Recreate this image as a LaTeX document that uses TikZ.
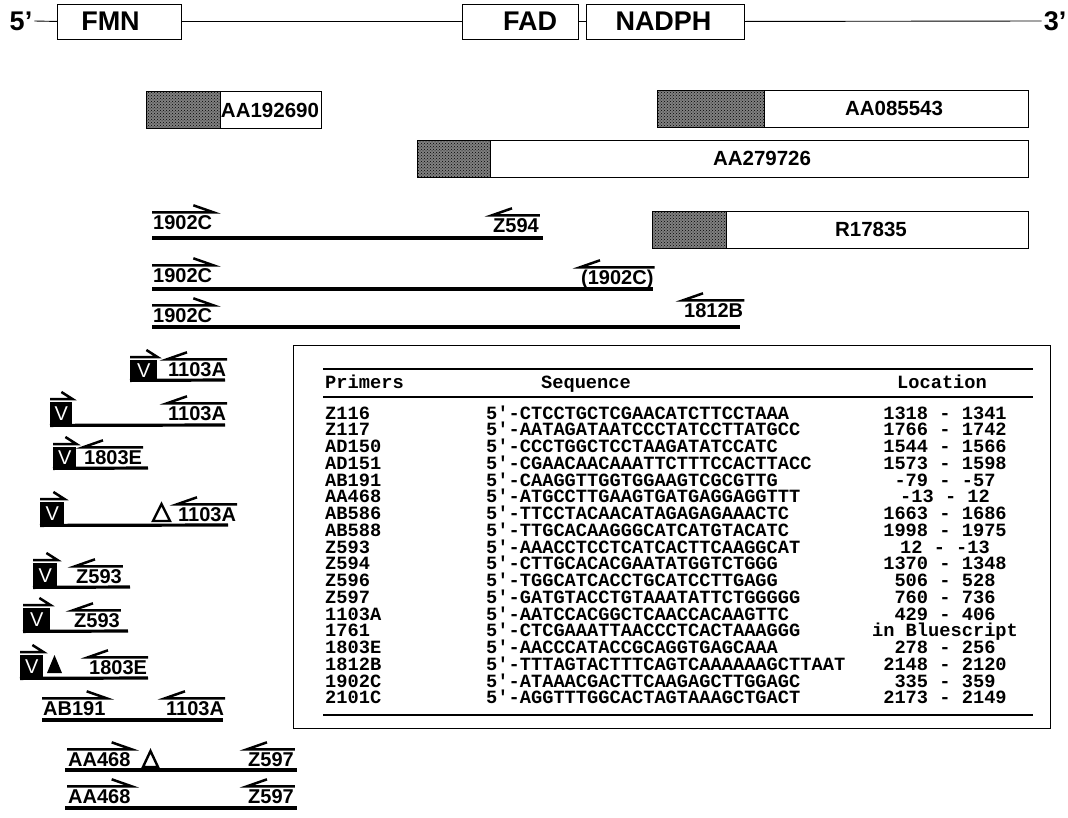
\documentclass[tikz,border=0pt]{standalone}
\usepackage{fontspec}
\setmainfont{Liberation Sans}
\setmonofont{Liberation Mono}
\usetikzlibrary{patterns}
\newcommand\hR[1]{\draw[harp] (#1.north west) -- (#1.north east) -- ++(-20,-7);}
\newcommand\hL[1]{\draw[harp] (#1.north east) -- (#1.north west) -- ++(20,-7);}
\newcommand\hV[1]{\draw[harp] ([yshift=3pt]#1.north west) -- ([yshift=3pt]#1.north east) -- ++(-11,-7);}
\begin{document}
\begin{tikzpicture}[x=1pt,y=-1pt,
  dom/.style={draw,line width=0.9pt,inner sep=0,anchor=north west,fill=white},
  domtxt/.style={font=\bfseries\fontsize{27}{27}\selectfont,inner sep=0},
  est/.style={draw,line width=0.9pt,inner sep=0,anchor=north west,fill=white},
  shd/.style={draw,line width=0.9pt,inner sep=0,anchor=north west,fill=black!50,postaction={pattern=crosshatch dots,pattern color=black}},
  esttxt/.style={font=\bfseries\fontsize{20.5}{21}\selectfont,inner sep=0},
  dna/.style={line width=3.2pt},
  harp/.style={line width=2.5pt},
  lbl/.style={font=\bfseries\fontsize{20}{20}\selectfont,inner xsep=1pt,inner ysep=2pt,text height=14.5pt,text depth=0pt,anchor=base west},
  vbox/.style={fill=black,text=white,inner sep=0,anchor=north west,font=\fontsize{20}{20}\selectfont},
  tri/.style={line width=2.4pt,line join=miter},
  tt/.style={font=\ttfamily\bfseries\fontsize{18.7}{18}\selectfont,inner sep=0,anchor=base west}]
\useasboundingbox (0,0) rectangle (1068,817);

% ---- top domain bar
\node[domtxt,inner xsep=2pt] (p5) at (21,21) {5’};
\node[domtxt,inner xsep=2pt] (p3) at (1055,21) {3’};
\node[dom,minimum width=124,minimum height=35] (fmn) at (57,3.5) {};
\node[dom,minimum width=116,minimum height=35] (fad) at (462,3.5) {};
\node[dom,minimum width=158,minimum height=35] (nadph) at (586,3.5) {};
\draw[line width=0.9pt] (p5.east) -- (fmn.west) (fmn.east) -- (fad.west)
  (fad.east) -- (nadph.west) (nadph.east) -- (p3.west);
\node[domtxt] (tfmn) at (110.5,21) {FMN};
\node[domtxt] (tfad) at (530,21) {FAD};
\node[domtxt] (tnadph) at (663.5,21) {NADPH};

% ---- ESTs
\node[est,minimum width=175,minimum height=37] (e1) at (146,91) {};
\node[shd,minimum width=74,minimum height=37] (e1s) at (146,91) {};
\node[esttxt] (t1) at (270,110) {AA192690};
\node[est,minimum width=371,minimum height=37] (e2) at (657,90) {};
\node[shd,minimum width=107,minimum height=37] (e2s) at (657,90) {};
\node[esttxt] (t2) at (894,108.5) {AA085543};
\node[est,minimum width=611,minimum height=37] (e3) at (417,140) {};
\node[shd,minimum width=73,minimum height=37] (e3s) at (417,140) {};
\node[esttxt] (t3) at (762,158.5) {AA279726};
\node[est,minimum width=376,minimum height=37] (e4) at (652,211) {};
\node[shd,minimum width=74,minimum height=37] (e4s) at (652,211) {};
\node[esttxt] (t4) at (871,229.5) {R17835};

% ---- long RT-PCR products
\coordinate (s1) at (152,238); \coordinate (f1) at (543,238);
\draw[dna] (s1) -- (f1);
\node[lbl] (l1a) at (152,229) {1902C}; \hR{l1a}
\node[lbl] (l1b) at (492,232) {Z594}; \hL{l1b}

\coordinate (s2) at (152,289); \coordinate (f2) at (653,289);
\draw[dna] (s2) -- (f2);
\node[lbl] (l2a) at (152,282) {1902C}; \hR{l2a}
\node[lbl] (l2b) at (580,284) {(1902C)}; \hL{l2b}

\coordinate (s3) at (152,327); \coordinate (f3) at (740,327);
\draw[dna] (s3) -- (f3);
\node[lbl] (l3a) at (152,322) {1902C}; \hR{l3a}
\node[lbl] (l3b) at (683,317) {1812B}; \hL{l3b}

% ---- 5' products
\node[vbox,minimum width=27,minimum height=20] (vA) at (130,360) {V}; \hV{vA}
\node[lbl] (lA) at (167,376) {1103A}; \hL{lA}
\coordinate (eA) at (225,380); \draw[dna] (vA.south west) -- (eA);

\node[vbox,minimum width=22,minimum height=23] (vB) at (50,402) {V}; \hV{vB}
\node[lbl] (lB) at (167,420) {1103A}; \hL{lB}
\coordinate (eB) at (225,425); \draw[dna] (vB.south west) -- (eB);

\node[vbox,minimum width=23,minimum height=21] (vC) at (53,447) {V}; \hV{vC}
\node[lbl] (lC) at (83,464) {1803E}; \hL{lC}
\coordinate (eC) at (148,468); \draw[dna] (vC.south west) -- (eC);

\node[vbox,minimum width=24,minimum height=23] (vD) at (40,502) {V}; \hV{vD}
\draw[tri] (153,521) -- (161.5,504) -- (170,521) -- cycle;
\node[lbl] (lD) at (177,521) {1103A}; \hL{lD}
\coordinate (eD) at (228,525); \draw[dna] (vD.south west) -- (eD);

\node[vbox,minimum width=24,minimum height=24] (vE) at (33,563) {V}; \hV{vE}
\node[lbl] (lE) at (75,583) {Z593}; \hL{lE}
\coordinate (eE) at (130,587); \draw[dna] (vE.south west) -- (eE);

\node[vbox,minimum width=27,minimum height=23] (vF) at (23,608) {V}; \hV{vF}
\node[lbl] (lF) at (73,627) {Z593}; \hL{lF}
\coordinate (eF) at (128,631); \draw[dna] (vF.south west) -- (eF);

\node[vbox,minimum width=23,minimum height=23] (vG) at (20,655) {V}; \hV{vG}
\fill (47,673) -- (54.5,655) -- (62,673) -- cycle;
\node[lbl] (lG) at (88,674) {1803E}; \hL{lG}
\coordinate (eG) at (148,678); \draw[dna] (vG.south west) -- (eG);

\coordinate (sH) at (42,720); \coordinate (eH) at (223,720);
\draw[dna] (sH) -- (eH);
\node[lbl] (lH1) at (42,715) {AB191}; \hR{lH1}
\node[lbl] (lH2) at (165,715) {1103A}; \hL{lH2}

\coordinate (sI) at (65,770); \coordinate (eI) at (297,770);
\draw[dna] (sI) -- (eI);
\node[lbl] (lI1) at (67,766) {AA468}; \hR{lI1}
\draw[tri] (143,767) -- (150.5,751) -- (158,767) -- cycle;
\node[lbl] (lI2) at (247,766) {Z597}; \hL{lI2}

\coordinate (sJ) at (65,808); \coordinate (eJ) at (297,808);
\draw[dna] (sJ) -- (eJ);
\node[lbl] (lJ1) at (67,803) {AA468}; \hR{lJ1}
\node[lbl] (lJ2) at (247,803) {Z597}; \hL{lJ2}

% ---- primer table
\node[draw,line width=1.2pt,anchor=north west,minimum width=757,minimum height=383,inner sep=0] (tbl) at (293,345) {};
\draw[line width=2pt] (323,369) -- (1033,369);
\draw[line width=2pt] (323,397) -- (1033,397);
\draw[line width=2pt] (323,715) -- (1033,715);
\node[tt] (hp) at (325,388) {Primers};
\node[tt,anchor=base] (hs) at (586,388) {Sequence};
\node[tt,anchor=base] (hl) at (942,388) {Location};
\foreach \p/\s/\l [count=\i from 0] in {
 Z116/CTCCTGCTCGAACATCTTCCTAAA/1318 - 1341,
 Z117/AATAGATAATCCCTATCCTTATGCC/1766 - 1742,
 AD150/CCCTGGCTCCTAAGATATCCATC/1544 - 1566,
 AD151/CGAACAACAAATTCTTTCCACTTACC/1573 - 1598,
 AB191/CAAGGTTGGTGGAAGTCGCGTTG/-79 - -57,
 AA468/ATGCCTTGAAGTGATGAGGAGGTTT/-13 - 12,
 AB586/TTCCTACAACATAGAGAGAAACTC/1663 - 1686,
 AB588/TTGCACAAGGGCATCATGTACATC/1998 - 1975,
 Z593/AAACCTCCTCATCACTTCAAGGCAT/12 - -13,
 Z594/CTTGCACACGAATATGGTCTGGG/1370 - 1348,
 Z596/TGGCATCACCTGCATCCTTGAGG/506 - 528,
 Z597/GATGTACCTGTAAATATTCTGGGGG/760 - 736,
 1103A/AATCCACGGCTCAACCACAAGTTC/429 - 406,
 1761/CTCGAAATTAACCCTCACTAAAGGG/in Bluescript,
 1803E/AACCCATACCGCAGGTGAGCAAA/278 - 256,
 1812B/TTTAGTACTTTCAGTCAAAAAAGCTTAAT/2148 - 2120,
 1902C/ATAAACGACTTCAAGAGCTTGGAGC/335 - 359,
 2101C/AGGTTTGGCACTAGTAAAGCTGACT/2173 - 2149}
{
 \pgfmathsetmacro\yy{419+16.75*\i}
 \node[tt] (pr\i) at (325,\yy) {\p};
 \node[tt] (sq\i) at (486,\yy) {5\textquotesingle-\s};
 \node[tt,anchor=base] (lc\i) at (945,\yy) {\l};
}
\end{tikzpicture}
\end{document}
